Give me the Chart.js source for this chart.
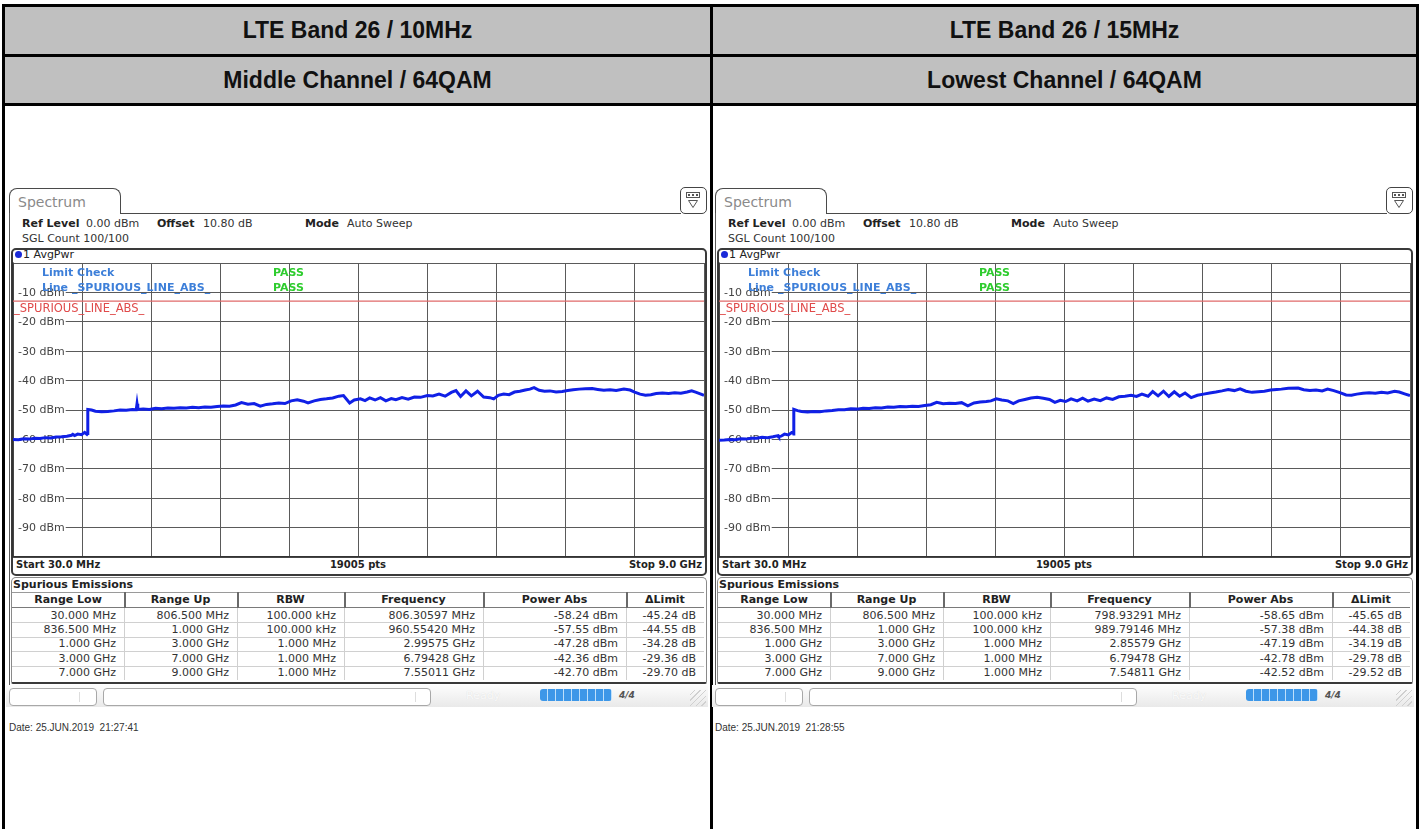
<!DOCTYPE html>
<html>
<head>
<meta charset="utf-8">
<script src="https://cdn.jsdelivr.net/npm/chart.js@4.4.1/dist/chart.umd.min.js"></script>
<style>
  html, body { margin: 0; padding: 0; }
  body { width: 1421px; height: 829px; position: relative; overflow: hidden; background: #fff; font-family: "DejaVu Sans", sans-serif; }
  .a { position: absolute; box-sizing: border-box; }
  .t { position: absolute; white-space: pre; font-size: 11px; line-height: 12px; color: #222; }
  .b { font-weight: bold; }
  .hdr { position: absolute; background: #c0c0c0; font: bold 23px "Liberation Sans", Arial, sans-serif; color: #111; text-align: center; }
</style>
</head>
<body>
<script>
// sweep settings shared by both screenshots
const START_MHZ = 30;
const STOP_MHZ = 9000;
const LIMIT_DBM = -13;
const levelTicks = [-10, -20, -30, -40, -50, -60, -70, -80, -90];

// trace (MHz, dBm)
const traceMid = [
  [30,-60.0],[100,-60.1],[170,-59.8],[240,-59.9],[310,-59.6],[380,-59.7],[450,-59.4],[520,-59.5],
  [590,-59.2],[660,-59.1],[730,-58.9],[790,-58.6],[806,-58.3],[830,-58.7],[870,-58.2],[920,-58.4],
  [960,-57.6],[990,-58.3],[1000,-58.0],[1001,-49.8],[1050,-50.0],[1100,-50.4],[1180,-50.6],[1260,-50.5],
  [1340,-50.3],[1420,-50.0],[1500,-50.1],[1580,-49.8],[1630,-49.9],[1640,-47.9],[1650,-49.8],[1720,-49.7],
  [1800,-49.8],[1880,-49.4],[1960,-49.6],[2040,-49.3],[2120,-49.4],[2200,-49.2],[2280,-49.3],[2360,-49.1],
  [2440,-49.2],[2520,-49.0],[2600,-49.1],[2680,-48.8],[2760,-48.6],[2840,-48.7],[2920,-48.3],[2996,-47.5],
  [3080,-48.0],[3160,-47.8],[3240,-48.7],[3320,-48.1],[3400,-47.9],[3480,-47.6],[3560,-47.8],[3640,-46.9],
  [3720,-46.5],[3800,-47.0],[3860,-47.6],[3940,-46.9],[4020,-46.4],[4100,-46.2],[4180,-45.9],[4260,-45.3],
  [4320,-45.1],[4400,-47.6],[4460,-46.6],[4540,-46.2],[4600,-46.8],[4660,-45.9],[4730,-46.6],[4800,-45.8],
  [4870,-46.9],[4940,-46.1],[5000,-46.5],[5080,-45.8],[5160,-46.3],[5240,-45.6],[5320,-45.7],[5410,-45.1],
  [5480,-45.2],[5560,-44.6],[5640,-45.3],[5720,-44.0],[5780,-43.4],[5840,-45.4],[5910,-43.5],[5980,-45.2],
  [6060,-43.6],[6140,-45.6],[6220,-45.8],[6270,-46.2],[6330,-45.0],[6400,-44.6],[6470,-44.8],[6540,-43.9],
  [6610,-43.6],[6680,-43.2],[6740,-42.9],[6794,-42.4],[6860,-43.3],[6930,-43.6],[7000,-43.5],[7080,-43.9],
  [7160,-43.7],[7230,-43.4],[7300,-43.1],[7380,-42.9],[7460,-42.8],[7550,-42.7],[7620,-43.0],[7700,-43.3],
  [7780,-43.1],[7860,-43.4],[7960,-42.9],[8040,-43.2],[8100,-43.9],[8170,-44.6],[8240,-45.0],[8310,-44.8],
  [8380,-44.4],[8460,-44.2],[8540,-44.4],[8620,-44.1],[8700,-44.3],[8780,-43.9],[8840,-43.5],[8900,-44.0],
  [8960,-44.6],[9000,-45.0]
];

// trace (MHz, dBm)
const traceLow = [
  [30,-60.3],[100,-60.2],[170,-60.0],[240,-60.1],[310,-59.8],[380,-59.9],[450,-59.6],[520,-59.6],
  [590,-59.3],[660,-59.4],[730,-59.1],[799,-58.7],[806,-59.0],[836,-58.9],[880,-58.2],[930,-58.5],
  [990,-57.4],[1000,-58.2],[1001,-49.8],[1050,-50.2],[1100,-50.5],[1180,-50.7],[1260,-50.5],[1340,-50.6],
  [1420,-50.3],[1500,-50.2],[1580,-49.9],[1660,-49.9],[1740,-49.6],[1820,-49.7],[1900,-49.4],[1980,-49.5],
  [2060,-49.2],[2140,-49.3],[2220,-49.0],[2300,-49.1],[2380,-48.8],[2460,-48.9],[2540,-48.7],[2620,-48.8],
  [2700,-48.5],[2780,-48.2],[2856,-47.4],[2940,-47.9],[3020,-47.7],[3100,-47.8],[3180,-47.5],[3260,-48.6],
  [3340,-47.6],[3420,-47.3],[3500,-47.1],[3560,-46.9],[3630,-46.2],[3700,-46.6],[3780,-46.9],[3850,-47.8],
  [3920,-46.9],[4000,-46.4],[4080,-45.9],[4160,-45.7],[4240,-46.0],[4320,-46.4],[4390,-47.4],[4460,-46.7],
  [4530,-47.1],[4600,-46.2],[4680,-46.9],[4750,-46.0],[4820,-47.0],[4900,-46.3],[4980,-46.8],[5060,-45.9],
  [5140,-46.4],[5220,-45.5],[5300,-45.3],[5380,-45.0],[5450,-45.4],[5520,-44.6],[5600,-45.3],[5660,-43.7],
  [5730,-45.2],[5800,-43.6],[5870,-45.4],[5940,-43.8],[6010,-45.3],[6080,-44.2],[6160,-45.8],[6240,-45.0],
  [6320,-44.6],[6400,-44.2],[6480,-43.9],[6560,-43.5],[6640,-43.0],[6720,-43.4],[6795,-42.8],[6870,-43.6],
  [6950,-44.0],[7030,-43.8],[7110,-43.6],[7190,-43.2],[7270,-43.0],[7330,-42.9],[7420,-42.6],[7548,-42.5],
  [7620,-43.1],[7700,-43.4],[7780,-43.2],[7860,-43.5],[7930,-42.9],[8010,-43.4],[8090,-44.1],[8170,-44.9],
  [8240,-45.0],[8310,-44.6],[8390,-44.3],[8470,-44.1],[8550,-44.3],[8630,-44.0],[8710,-44.2],[8800,-43.6],
  [8860,-43.9],[8930,-44.5],[9000,-45.1]
];

// spurious emissions result tables
const colHeads = ['Range Low', 'Range Up', 'RBW', 'Frequency', 'Power Abs', '\u0394Limit'];
const rangeLow = ['30.000 MHz', '836.500 MHz', '1.000 GHz', '3.000 GHz', '7.000 GHz'];
const rangeUp = ['806.500 MHz', '1.000 GHz', '3.000 GHz', '7.000 GHz', '9.000 GHz'];
const rbw = ['100.000 kHz', '100.000 kHz', '1.000 MHz', '1.000 MHz', '1.000 MHz'];
const peakFreqMid = ['806.30597 MHz', '960.55420 MHz', '2.99575 GHz', '6.79428 GHz', '7.55011 GHz'];
const powerMid = [-58.24, -57.55, -47.28, -42.36, -42.70];
const deltaMid = [-45.24, -44.55, -34.28, -29.36, -29.70];
const peakFreqLow = ['798.93291 MHz', '989.79146 MHz', '2.85579 GHz', '6.79478 GHz', '7.54811 GHz'];
const powerLow = [-58.65, -57.38, -47.19, -42.78, -42.52];
const deltaLow = [-45.65, -44.38, -34.19, -29.78, -29.52];

const panels = [
  { ox: 0, title: 'LTE Band 26 / 10MHz', sub: 'Middle Channel / 64QAM', trace: traceMid,
    freq: peakFreqMid, power: powerMid, delta: deltaMid, date: 'Date: 25.JUN.2019  21:27:41' },
  { ox: 706, title: 'LTE Band 26 / 15MHz', sub: 'Lowest Channel / 64QAM', trace: traceLow,
    freq: peakFreqLow, power: powerLow, delta: deltaLow, date: 'Date: 25.JUN.2019  21:28:55' }
];

const TRACE_COLOR = '#1020e6';
const colEdges = [12, 124, 237, 344, 483, 626, 704];

function el(cls, css, text) {
  const d = document.createElement('div');
  d.className = cls;
  d.style.cssText = css;
  if (text !== undefined) d.textContent = text;
  document.body.appendChild(d);
  return d;
}

// outer report table frame
el('hdr', 'left:5px;top:7px;width:705px;height:47px;line-height:47px;', panels[0].title);
el('hdr', 'left:713px;top:7px;width:703px;height:47px;line-height:47px;', panels[1].title);
el('hdr', 'left:5px;top:57px;width:705px;height:46px;line-height:46px;', panels[0].sub);
el('hdr', 'left:713px;top:57px;width:703px;height:46px;line-height:46px;', panels[1].sub);
el('a', 'left:2px;top:4px;width:1417px;height:3px;background:#000;');
el('a', 'left:2px;top:54px;width:1417px;height:3px;background:#000;');
el('a', 'left:2px;top:103px;width:1417px;height:3px;background:#000;');
el('a', 'left:2px;top:4px;width:3px;height:830px;background:#000;');
el('a', 'left:710px;top:4px;width:3px;height:830px;background:#000;');
el('a', 'left:1416px;top:4px;width:3px;height:830px;background:#000;');

// y level labels sit under the trace, with a white patch over the grid
const levelLabels = {
  id: 'levelLabels',
  beforeDatasetsDraw(chart) {
    const { ctx, chartArea, scales: { y } } = chart;
    ctx.save();
    ctx.font = '11px "DejaVu Sans"';
    ctx.textBaseline = 'middle';
    levelTicks.forEach(v => {
      const py = y.getPixelForValue(v);
      const label = v + ' dBm';
      const w = ctx.measureText(label).width;
      ctx.fillStyle = '#fff';
      ctx.fillRect(chartArea.left + 1, py - 6, w + 5, 12);
      ctx.fillStyle = '#444';
      ctx.fillText(label, chartArea.left + 5, py + 0.5);
    });
    ctx.restore();
  },
  afterDatasetsDraw(chart) {
    const { ctx, chartArea, scales: { y } } = chart;
    ctx.save();
    ctx.font = '11.5px "DejaVu Sans"';
    ctx.textBaseline = 'top';
    ctx.fillStyle = '#e04a4a';
    ctx.fillText('_SPURIOUS_LINE_ABS_', chartArea.left + 1, y.getPixelForValue(LIMIT_DBM) + 2);
    ctx.restore();
  }
};

function drawSpectrum(canvas, trace) {
  const points = trace.map(([f, l]) => ({ x: f, y: l }));
  const limit = [{ x: START_MHZ, y: LIMIT_DBM }, { x: STOP_MHZ, y: LIMIT_DBM }];
  new Chart(canvas, {
    type: 'line',
    data: {
      datasets: [
        { data: points, borderColor: TRACE_COLOR, borderWidth: 3, pointRadius: 0, tension: 0 },
        { data: limit, borderColor: '#e06a6a', borderWidth: 1.2, pointRadius: 0 }
      ]
    },
    options: {
      animation: false,
      responsive: false,
      maintainAspectRatio: false,
      layout: { padding: 1 },
      plugins: { legend: { display: false }, tooltip: { enabled: false } },
      scales: {
        x: {
          type: 'linear', min: START_MHZ, max: STOP_MHZ,
          afterBuildTicks: s => {
            s.ticks = [];
            for (let i = 0; i <= 10; i++) s.ticks.push({ value: START_MHZ + i * (STOP_MHZ - START_MHZ) / 10 });
          },
          ticks: { display: false },
          grid: { color: '#5a5a5a', lineWidth: 1, drawTicks: false },
          border: { display: true, color: '#333', width: 1.5 }
        },
        y: {
          min: -100, max: 0,
          ticks: { display: false, stepSize: 10 },
          grid: { color: '#5a5a5a', lineWidth: 1, drawTicks: false },
          border: { display: true, color: '#333', width: 1.5 }
        }
      }
    },
    plugins: [levelLabels]
  });
}

function buildPanel(p) {
  const ox = p.ox;
  const L = x => 'left:' + (ox + x) + 'px;';

  // Spectrum tab and icon
  el('a', L(9) + 'top:188px;width:112px;height:26px;border:1.5px solid #4a4a4a;border-bottom:none;border-radius:8px 8px 0 0;');
  el('t', L(18) + 'top:194px;font-size:14px;line-height:16px;color:#8a8a8a;', 'Spectrum');
  el('a', L(120) + 'top:213px;width:561px;height:0;border-top:1.5px solid #4a4a4a;');
  el('a', L(9) + 'top:213px;width:0;height:472px;border-left:1.5px solid #5a5a5a;');
  const icon = el('a', L(680) + 'top:187px;width:27px;height:27px;border:1.5px solid #444;border-radius:5px;background:#fff;');
  icon.innerHTML = '<svg width="24" height="24" style="position:absolute;left:0;top:0">' +
    '<rect x="5.5" y="4.5" width="13" height="5" fill="#fff" stroke="#555"/>' +
    '<rect x="7" y="6" width="2" height="2" fill="#555"/><rect x="11" y="6" width="2" height="2" fill="#555"/><rect x="15" y="6" width="2" height="2" fill="#555"/>' +
    '<path d="M7.5 12.5 L16.5 12.5 L12 19.5 Z" fill="none" stroke="#555"/></svg>';

  // settings lines
  el('t b', L(22) + 'top:218px;', 'Ref Level');
  el('t', L(86) + 'top:218px;color:#333;', '0.00 dBm');
  el('t b', L(157) + 'top:218px;', 'Offset');
  el('t', L(203) + 'top:218px;color:#333;', '10.80 dB');
  el('t b', L(305) + 'top:218px;', 'Mode');
  el('t', L(347) + 'top:218px;color:#333;', 'Auto Sweep');
  el('t', L(22) + 'top:233px;color:#333;', 'SGL Count 100/100');

  // graph frame
  el('a', L(11) + 'top:248px;width:696px;height:328px;border:2px solid #3a3a3a;border-radius:5px;');
  el('a', L(15) + 'top:251px;width:7px;height:7px;border-radius:50%;background:#1a2ad8;');
  el('t', L(23) + 'top:249px;', '1 AvgPwr');

  const cv = document.createElement('canvas');
  cv.width = 693; cv.height = 296;
  cv.style.cssText = 'position:absolute;' + L(12) + 'top:262px;width:693px;height:296px;';
  document.body.appendChild(cv);
  drawSpectrum(cv, p.trace);

  // limit check overlay
  el('t b', L(42) + 'top:267px;color:#3d7fd9;', 'Limit Check');
  el('t b', L(42) + 'top:282px;color:#3d7fd9;', 'Line _SPURIOUS_LINE_ABS_');
  el('t b', L(273) + 'top:267px;color:#2ecc2e;', 'PASS');
  el('t b', L(273) + 'top:282px;color:#2ecc2e;', 'PASS');

  // frequency axis footer
  el('t b', L(16) + 'top:558.5px;font-size:10px;', 'Start 30.0 MHz');
  el('t b', L(308) + 'top:558.5px;font-size:10px;width:100px;text-align:center;', '19005 pts');
  el('t b', L(552) + 'top:558.5px;font-size:10px;width:150px;text-align:right;', 'Stop 9.0 GHz');

  // spurious emissions table
  el('a', L(11) + 'top:577px;width:696px;height:107px;border:1px solid #8a8a8a;border-bottom:2.5px solid #3a3a3a;border-radius:5px 5px 2px 2px;');
  el('t b', L(13) + 'top:579px;', 'Spurious Emissions');
  const rowTop = i => 608 + i * 14.4;
  el('a', L(12) + 'top:592px;width:692px;height:16px;border-top:1px solid #9a9a9a;border-bottom:1px solid #7a7a7a;');
  for (let i = 1; i < 5; i++) {
    el('a', L(12) + 'top:' + rowTop(i) + 'px;width:692px;height:1px;background:#d0d0d0;');
  }
  for (let c = 1; c < colEdges.length - 1; c++) {
    el('a', L(colEdges[c]) + 'top:592px;width:1.5px;height:16px;background:#6a6a6a;');
    el('a', L(colEdges[c]) + 'top:608px;width:1px;height:72px;background:#d0d0d0;');
  }
  colHeads.forEach((h, c) => {
    el('t b', L(colEdges[c]) + 'top:594px;width:' + (colEdges[c + 1] - colEdges[c]) + 'px;text-align:center;', h);
  });
  for (let i = 0; i < 5; i++) {
    const cells = [rangeLow[i], rangeUp[i], rbw[i], p.freq[i], p.power[i].toFixed(2) + ' dBm', p.delta[i].toFixed(2) + ' dB'];
    cells.forEach((v, c) => {
      el('t', L(colEdges[c]) + 'top:' + (rowTop(i) + 1.5) + 'px;width:' + (colEdges[c + 1] - colEdges[c] - 8) + 'px;text-align:right;color:#333;', v);
    });
  }

  // status bar
  el('a', L(6) + 'top:685px;width:702px;height:22px;background:linear-gradient(#fdfdfd,#e9e9e9);');
  const box1 = el('a', L(9) + 'top:688px;width:88px;height:18px;border:1px solid #a8a8a8;border-radius:4px;background:#fff;');
  box1.innerHTML = '<div style="position:absolute;left:69px;top:3px;width:1px;height:10px;background:#ddd"></div>';
  const box2 = el('a', L(103) + 'top:688px;width:328px;height:18px;border:1px solid #a8a8a8;border-radius:4px;background:#fff;');
  box2.innerHTML = '<div style="position:absolute;left:311px;top:3px;width:1px;height:10px;background:#ddd"></div>';
  el('t', L(466) + 'top:690px;color:#fafafa;text-shadow:0 0 1px #d8d8d8;', 'Ready');
  el('a', L(540) + 'top:689px;width:72px;height:12px;border-radius:3px;background:repeating-linear-gradient(90deg,#3d97e8 0,#3d97e8 7px,#bfe0fb 7px,#bfe0fb 8px);');
  el('t b', L(619) + 'top:689px;font-size:9px;font-style:italic;color:#555;', '4/4');
  el('a', L(690) + 'top:690px;width:16px;height:16px;background:repeating-linear-gradient(135deg,transparent 0,transparent 3px,#d0d0d0 3px,#d0d0d0 4px);');

  // capture time stamp
  el('t', L(9) + 'top:722px;font:10px "Liberation Sans", Arial, sans-serif;color:#333;', p.date);
}

panels.forEach(buildPanel);
</script>
</body>
</html>
